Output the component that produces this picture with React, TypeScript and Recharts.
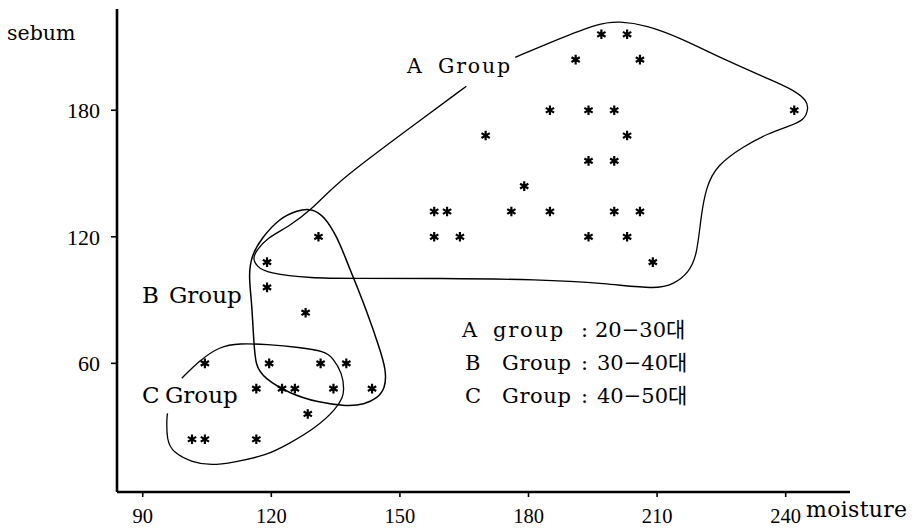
import React from 'react';
import { ScatterChart, Scatter, XAxis, YAxis, Customized } from 'recharts';

// ---- data ----
const xTicks = [90, 120, 150, 180, 210, 240];
const yTicks = [60, 120, 180];

const groupA = [
  { x: 197, y: 216 }, { x: 203, y: 216 },
  { x: 191, y: 204 }, { x: 206, y: 204 },
  { x: 185, y: 180 }, { x: 194, y: 180 }, { x: 200, y: 180 }, { x: 242, y: 180 },
  { x: 170, y: 168 }, { x: 203, y: 168 },
  { x: 194, y: 156 }, { x: 200, y: 156 },
  { x: 179, y: 144 },
  { x: 158, y: 132 }, { x: 161, y: 132 }, { x: 176, y: 132 }, { x: 185, y: 132 },
  { x: 200, y: 132 }, { x: 206, y: 132 },
  { x: 158, y: 120 }, { x: 164, y: 120 }, { x: 194, y: 120 }, { x: 203, y: 120 },
  { x: 209, y: 108 },
];

const groupB = [
  { x: 131, y: 120 }, { x: 119, y: 108 }, { x: 119, y: 96 }, { x: 128, y: 84 },
  { x: 131.5, y: 60 }, { x: 137.5, y: 60 }, { x: 134.5, y: 48 }, { x: 143.5, y: 48 },
];

const groupC = [
  { x: 104.5, y: 60 }, { x: 119.5, y: 60 },
  { x: 116.5, y: 48 }, { x: 122.5, y: 48 }, { x: 125.5, y: 48 },
  { x: 128.5, y: 36 },
  { x: 101.5, y: 24 }, { x: 104.5, y: 24 }, { x: 116.5, y: 24 },
];

const outlineA = [
  { x: 176.9, y: 205.1 }, { x: 186.4, y: 213.2 }, { x: 196.4, y: 221.3 }, { x: 201.1, y: 222.2 },
  { x: 207.6, y: 220.3 }, { x: 215.1, y: 214.6 }, { x: 226, y: 203.7 }, { x: 237.2, y: 193.8 },
  { x: 241.9, y: 189.5 }, { x: 244.9, y: 184.7 }, { x: 245.3, y: 180.9 }, { x: 244.4, y: 175.3 },
  { x: 240.7, y: 172.4 }, { x: 236, y: 169.1 }, { x: 230.2, y: 162.9 }, { x: 223.9, y: 153.9 },
  { x: 221.4, y: 143.5 }, { x: 220.2, y: 129.2 }, { x: 219.3, y: 111.2 }, { x: 217.4, y: 103.1 },
  { x: 213.9, y: 97.5 }, { x: 209.7, y: 95.1 }, { x: 198.1, y: 97.9 }, { x: 182.5, y: 99.8 },
  { x: 159.2, y: 100.3 }, { x: 138.2, y: 100.3 }, { x: 129.6, y: 100.3 }, { x: 118.9, y: 102.7 },
  { x: 116.6, y: 106 }, { x: 115.6, y: 109.8 }, { x: 116.6, y: 113.6 }, { x: 118.9, y: 119.3 },
  { x: 124.2, y: 125 }, { x: 129.4, y: 133 }, { x: 134.3, y: 143.5 }, { x: 142.2, y: 156.3 },
  { x: 153.8, y: 173.8 }, { x: 165.5, y: 191.4 },
];

const outlineB = [
  { x: 129.4, y: 133.5 }, { x: 132.4, y: 129.7 }, { x: 135.4, y: 119.8 }, { x: 137.7, y: 107.9 },
  { x: 139.4, y: 99.4 }, { x: 142.2, y: 85.1 }, { x: 145.2, y: 67.6 }, { x: 146.8, y: 56.7 },
  { x: 146.6, y: 48.1 }, { x: 144.7, y: 43.4 }, { x: 141.7, y: 40.5 }, { x: 137.7, y: 39.6 },
  { x: 130.8, y: 41.5 }, { x: 124.2, y: 45.7 }, { x: 118.4, y: 52.9 }, { x: 116.3, y: 58.6 },
  { x: 115.9, y: 70.9 }, { x: 115.4, y: 89.9 }, { x: 114.7, y: 101.7 }, { x: 115.4, y: 111.2 },
  { x: 117.7, y: 119.3 }, { x: 121.9, y: 128.8 }, { x: 126.1, y: 132.6 },
];

const outlineC = [
  { x: 99.1, y: 52.9 }, { x: 103.3, y: 61.4 }, { x: 107.9, y: 68 }, { x: 112.6, y: 69.5 },
  { x: 118.9, y: 69 }, { x: 126.6, y: 67.6 }, { x: 132.4, y: 65.7 }, { x: 134.3, y: 62.8 },
  { x: 136.6, y: 55.2 }, { x: 137, y: 47.2 }, { x: 136.6, y: 43.8 }, { x: 135.2, y: 38.6 },
  { x: 130.5, y: 29.6 }, { x: 124.2, y: 22 }, { x: 118.9, y: 16.3 }, { x: 111, y: 13 },
  { x: 106.1, y: 11.6 }, { x: 101.6, y: 13 }, { x: 97, y: 17.8 }, { x: 95.6, y: 23.5 },
  { x: 95.6, y: 34.4 }, { x: 95.8, y: 36.3 },
];

const legendLines = [
  { key: 'A', word: 'group', range: '20−30대' },
  { key: 'B', word: 'Group', range: '30−40대' },
  { key: 'C', word: 'Group', range: '40−50대' },
];

// ---- styling ----
const SERIF = "'DejaVu Serif', 'Noto Sans CJK KR', serif";
const NUM = "'Liberation Serif', 'DejaVu Serif', serif";

const Asterisk = (props: any) => {
  const { cx, cy } = props;
  if (cx == null || cy == null) return <g />;
  const r = 4.8;
  const dx = r * Math.cos(Math.PI / 6);
  const dy = r * Math.sin(Math.PI / 6);
  const d = `M${cx} ${cy - r}L${cx} ${cy + r}M${cx - dx} ${cy - dy}L${cx + dx} ${cy + dy}M${cx - dx} ${cy + dy}L${cx + dx} ${cy - dy}`;
  return (
    <g>
      <path d={d} stroke="#000" strokeWidth={2.2} fill="none" />
      <circle cx={cx} cy={cy} r={2} fill="#000" />
    </g>
  );
};

const NoShape = () => <g />;

const XTick = (props: any) => (
  <text x={props.x} y={props.y} dy="0.71em" textAnchor="middle" fill="#000" fontSize={20.5} fontFamily={NUM}>
    {props.payload.value}
  </text>
);

const YTick = (props: any) => (
  <text x={props.x} y={props.y} dy="0.355em" textAnchor="end" fill="#000" fontSize={22} fontFamily={NUM}>
    {props.payload.value}
  </text>
);

const Annotations = () => (
  <g fill="#000" fontFamily={SERIF}>
    <text x={7} y={40} fontSize={20.5}>sebum</text>
    <text x={806} y={517} fontSize={22} letterSpacing={0.3}>moisture</text>
    <text x={407} y={73} fontSize={20.5}>
      A<tspan x={438} letterSpacing={1.8}>Group</tspan>
    </text>
    <text x={142} y={303} fontSize={23}>
      B<tspan x={169}>Group</tspan>
    </text>
    <text x={142} y={403} fontSize={23}>
      C<tspan x={165}>Group</tspan>
    </text>
    {legendLines.map((l, i) => (
      <text key={l.key} x={i === 0 ? 462 : 465} y={337 + i * 33} fontSize={21}>
        {l.key}
        <tspan x={i === 0 ? 493 : 502} letterSpacing={i === 0 ? 1.8 : 0.6}>{l.word}</tspan>
        <tspan x={581}>:</tspan>
        <tspan x={i === 0 ? 595 : 597}>{l.range}</tspan>
      </text>
    ))}
  </g>
);

export default function App() {
  return (
    <div style={{ position: 'absolute', left: 0, top: 0, background: '#fff' }}>
      <ScatterChart width={922} height={530} margin={{ top: 9, right: 72, bottom: 8, left: 57 }}>
        <XAxis
          type="number"
          dataKey="x"
          domain={[84, 255]}
          ticks={xTicks}
          allowDataOverflow
          height={30}
          axisLine={{ stroke: '#000', strokeWidth: 2.6 }}
          tickLine={{ stroke: '#000', strokeWidth: 1.6 }}
          tickSize={5}
          tickMargin={11}
          tick={XTick}
        />
        <YAxis
          type="number"
          dataKey="y"
          domain={[-1, 228]}
          ticks={yTicks}
          allowDataOverflow
          width={60}
          axisLine={{ stroke: '#000', strokeWidth: 2.6 }}
          tickLine={{ stroke: '#000', strokeWidth: 1.6 }}
          tickSize={6}
          tickMargin={11}
          tick={YTick}
        />
        <Scatter data={outlineA} shape={NoShape} line={{ stroke: '#000', strokeWidth: 1.3 }} lineType="joint" lineJointType="basis" isAnimationActive={false} />
        <Scatter data={outlineB} shape={NoShape} line={{ stroke: '#000', strokeWidth: 1.5 }} lineType="joint" lineJointType="basisClosed" isAnimationActive={false} />
        <Scatter data={outlineC} shape={NoShape} line={{ stroke: '#000', strokeWidth: 1.3 }} lineType="joint" lineJointType="basis" isAnimationActive={false} />
        <Scatter data={groupA} shape={Asterisk} isAnimationActive={false} />
        <Scatter data={groupB} shape={Asterisk} isAnimationActive={false} />
        <Scatter data={groupC} shape={Asterisk} isAnimationActive={false} />
        <Customized component={Annotations} />
      </ScatterChart>
    </div>
  );
}
